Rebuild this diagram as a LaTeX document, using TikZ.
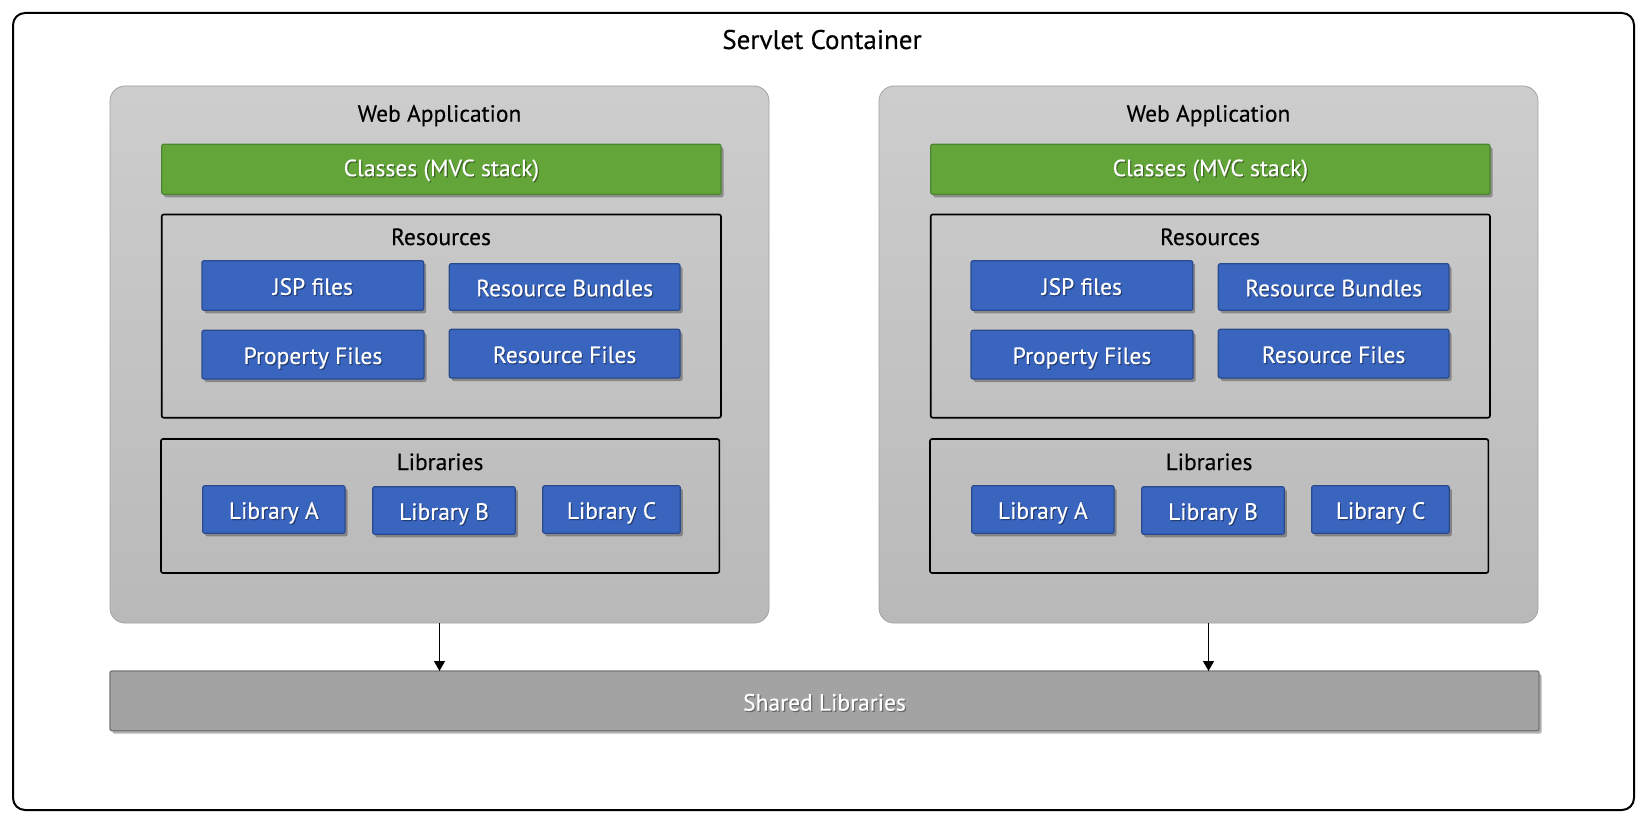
\documentclass[tikz,border=0pt]{standalone}
\usepackage{fontspec}
\setmainfont{PT Sans}[FakeBold=0.3]
\usetikzlibrary{shadows,arrows.meta}
\definecolor{greenfill}{HTML}{63A539}
\definecolor{greenline}{HTML}{4C8530}
\definecolor{bluefill}{HTML}{3A65BF}
\definecolor{blueline}{HTML}{294A8E}
\definecolor{waTop}{HTML}{CDCDCD}
\definecolor{waBot}{HTML}{B9B9B9}
\definecolor{waLine}{HTML}{A2A2A2}
\definecolor{sharedfill}{HTML}{A3A3A3}
\definecolor{sharedline}{HTML}{767676}
\colorlet{shc}{black}
\newcommand\shd[1]{\makebox[0pt][l]{\kern1.2pt\raisebox{-1.2pt}{\textcolor{shc}{#1}}}#1}
\tikzset{
  lbl/.style={font=\fontsize{23.5}{26}\selectfont, text=black, inner sep=0pt, anchor=base},
  outerbox/.style={draw=black, line width=2pt, rounded corners=12pt, inner sep=0pt, outer sep=0pt},
  webapp/.style={draw=waLine, line width=0.8pt, rounded corners=15pt, top color=waTop, bottom color=waBot, inner sep=0pt, outer sep=0pt},
  grpbox/.style={draw=black, line width=1.6pt, rounded corners=2pt, inner sep=0pt, outer sep=0pt},
  myshadow/.style={drop shadow={shadow xshift=2.5pt, shadow yshift=-3pt, opacity=0.3, fill=black}},
  boxtext/.style={text=white, font=\fontsize{23.5}{26}\selectfont, inner sep=0pt, outer sep=0pt, text depth=0pt},
  clsbox/.style={fill=greenfill, draw=greenline, line width=1.2pt, rounded corners=2pt, myshadow, boxtext, text height=13.8pt,
    execute at begin node={\colorlet{shc}{greenfill!62!black}}},
  itembox/.style={fill=bluefill, draw=blueline, line width=1.2pt, rounded corners=2pt, myshadow, boxtext, text height=18.6pt,
    execute at begin node={\colorlet{shc}{bluefill!62!black}}},
  sharedbox/.style={fill=sharedfill, draw=sharedline, line width=1.4pt, rounded corners=2pt, myshadow, boxtext, text height=19.5pt,
    execute at begin node={\colorlet{shc}{sharedfill!65!black}}},
  arr/.style={draw=black, line width=1.2pt, -{Triangle[width=11pt,length=10pt]}}
}
\newcommand\drawpanel[2]{%
  \begin{scope}[xshift=#2pt]
    \node[webapp, minimum width=659pt, minimum height=537pt] (wa#1) at (439.5,354.5) {};
    \node[lbl] (wat#1) at (439.5,121.7) {Web Application};
    \node[clsbox, minimum width=559.3pt, minimum height=50pt] (cls#1) at (441.35,169.3) {\shd{Classes (MVC stack)}};
    \node[grpbox, minimum width=559.3pt, minimum height=203.2pt] (res#1) at (441.35,316.1) {};
    \node[lbl] (rest#1) at (441,245) {Resources};
    \node[itembox, minimum width=221.7pt, minimum height=49.6pt] (jsp#1) at (312.85,285.5) {\shd{JSP files}};
    \node[itembox, minimum width=230.7pt, minimum height=46.6pt] (rb#1) at (564.65,287) {\shd{Resource Bundles}};
    \node[itembox, minimum width=222pt, minimum height=48.7pt] (pf#1) at (313,354.65) {\shd{Property Files}};
    \node[itembox, minimum width=230.7pt, minimum height=48.7pt] (rf#1) at (564.65,353.65) {\shd{Resource Files}};
    \node[grpbox, minimum width=558.3pt, minimum height=134pt] (lib#1) at (440.15,506) {};
    \node[lbl] (libt#1) at (440,470) {Libraries};
    \node[itembox, minimum width=142.3pt, minimum height=47.6pt] (la#1) at (273.85,509.5) {\shd{Library A}};
    \node[itembox, minimum width=142.6pt, minimum height=47.6pt] (lb#1) at (444,510.5) {\shd{Library B}};
    \node[itembox, minimum width=137.6pt, minimum height=47.6pt] (lc#1) at (611.5,509.5) {\shd{Library C}};
  \end{scope}%
}
\begin{document}
\begin{tikzpicture}[x=1pt, y=-1pt]
  \useasboundingbox (0,0) rectangle (1645,821);
  \fill[white] (0,0) rectangle (1645,821);
  \node[outerbox, minimum width=1621pt, minimum height=797pt] (sc) at (823.5,411.5) {};
  \node[lbl, font=\fontsize{27}{30}\selectfont] (sct) at (822,49) {Servlet Container};
  \drawpanel{1}{0}
  \drawpanel{2}{769}
  \node[sharedbox, minimum width=1429pt, minimum height=59.7pt] (shared) at (824.5,700.85) {\shd{Shared Libraries}};
  \draw[arr] (wa1.south) -- (wa1.south |- shared.north);
  \draw[arr] (wa2.south) -- (wa2.south |- shared.north);
\end{tikzpicture}
\end{document}
